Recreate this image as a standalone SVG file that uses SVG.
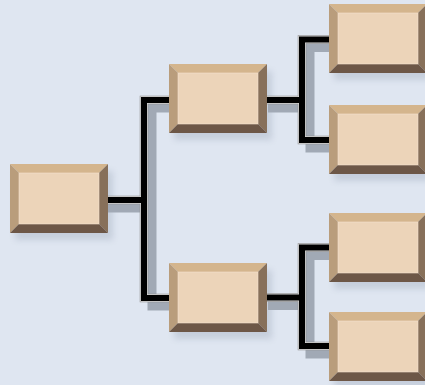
<svg xmlns="http://www.w3.org/2000/svg" xmlns:xlink="http://www.w3.org/1999/xlink" width="425" height="385" viewBox="0 0 425 385">
<style>
.bg{fill:#dfe6f1}
.face{fill:#ecd4b9;stroke:#f3e2cf;stroke-width:0.6}
.top{fill:#d4b58d}
.left{fill:#b99d7c}
.right{fill:#87705a}
.bottom{fill:#6d5747}
.bshadow{fill:#a8b2c2;opacity:0.45}
.cshadow{fill:none;stroke:#a1a9b5;stroke-width:9;stroke-linejoin:miter}
.couter{fill:none;stroke:#8a8a8a;stroke-width:8.5;stroke-linejoin:miter}
.cmid{fill:none;stroke:#d8d8d8;stroke-width:7.4;stroke-linejoin:miter}
.ccore{fill:none;stroke:#000;stroke-width:6;stroke-linejoin:miter}
</style>
<defs>
<filter id="blur" x="-20%" y="-20%" width="140%" height="140%"><feGaussianBlur stdDeviation="3"/></filter>
<g id="box">
<polygon class="top" points="0,0 98,0 89,9 9,9"/>
<polygon class="left" points="0,0 9,9 9,60 0,69"/>
<polygon class="right" points="98,0 98,69 89,60 89,9"/>
<polygon class="bottom" points="0,69 9,60 89,60 98,69"/>
<rect class="face" x="9" y="9" width="80" height="51"/>
</g>
<rect id="boxsh" class="bshadow" x="5" y="7" width="98" height="69" filter="url(#blur)"/>
<path id="c1" d="M100 200H144M175 100H144V298H175"/>
<path id="c2" d="M260 100H302M335 39.5H302V140H335"/>
<path id="c3" d="M260 297.5H302M335 247.5H302V346H335"/>
</defs>
<rect class="bg" width="425" height="385"/>
<g id="box-shadows">
<use xlink:href="#boxsh" x="10" y="164"/>
<use xlink:href="#boxsh" x="169" y="64"/>
<use xlink:href="#boxsh" x="169" y="263"/>
<use xlink:href="#boxsh" x="329" y="4"/>
<use xlink:href="#boxsh" x="329" y="105"/>
<use xlink:href="#boxsh" x="329" y="213"/>
<use xlink:href="#boxsh" x="329" y="312"/>
</g>
<g id="connectors">
<g transform="translate(8,8)">
<use xlink:href="#c1" class="cshadow"/>
<use xlink:href="#c2" class="cshadow"/>
<use xlink:href="#c3" class="cshadow"/>
</g>
<use xlink:href="#c1" class="couter"/>
<use xlink:href="#c2" class="couter"/>
<use xlink:href="#c3" class="couter"/>
<use xlink:href="#c1" class="cmid"/>
<use xlink:href="#c2" class="cmid"/>
<use xlink:href="#c3" class="cmid"/>
<use xlink:href="#c1" class="ccore"/>
<use xlink:href="#c2" class="ccore"/>
<use xlink:href="#c3" class="ccore"/>
</g>
<g id="node-root" transform="translate(10,164)"><use xlink:href="#box"/></g>
<g id="node-a" transform="translate(169,64)"><use xlink:href="#box"/></g>
<g id="node-b" transform="translate(169,263)"><use xlink:href="#box"/></g>
<g id="node-a1" transform="translate(329,4)"><use xlink:href="#box"/></g>
<g id="node-a2" transform="translate(329,105)"><use xlink:href="#box"/></g>
<g id="node-b1" transform="translate(329,213)"><use xlink:href="#box"/></g>
<g id="node-b2" transform="translate(329,312)"><use xlink:href="#box"/></g>
</svg>
